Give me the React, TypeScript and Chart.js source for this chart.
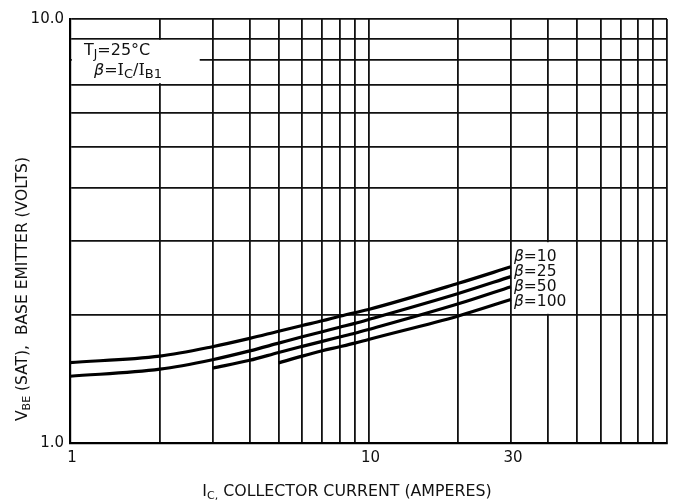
import React, { useEffect, useRef } from 'react';
import { Chart, registerables } from 'chart.js';

Chart.register(...registerables);

// ---- data ----
const currents = [1, 2, 3, 4, 5, 6, 7, 8, 9, 10, 20, 30];
const vbeBeta10 = [1.548, 1.603, 1.687, 1.765, 1.835, 1.893, 1.942, 1.99, 2.03, 2.065, 2.38, 2.603];
const vbeBeta25 = [1.437, 1.493, 1.572, 1.649, 1.72, 1.78, 1.83, 1.875, 1.915, 1.955, 2.252, 2.468];
const vbeBeta50 = [null, null, 1.501, 1.567, 1.635, 1.69, 1.737, 1.778, 1.815, 1.852, 2.13, 2.337];
const vbeBeta100 = [null, null, null, null, 1.545, 1.603, 1.65, 1.686, 1.72, 1.755, 1.994, 2.18];

const betaLabels = ['β=10', 'β=25', 'β=50', 'β=100'];

const xGridValues = [1, 2, 3, 4, 5, 6, 7, 8, 9, 10, 20, 30, 40, 50, 60, 70, 80, 90, 100];
const yGridValues = [1, 2, 3, 4, 5, 6, 7, 8, 9, 10];
const xTickValues = [1, 10, 30];
const xTickLabels = ['1', '10', '30'];
const yTickValues = [1, 10];
const yTickLabels = ['1.0', '10.0'];

const FONT = '"DejaVu Sans", "Liberation Sans", Arial, sans-serif';
const SERIF = '"DejaVu Serif", "Liberation Serif", serif';
const INK = '#111';

type Run = { t: string; size: number; dy?: number; italic?: boolean; serif?: boolean };

function drawRuns(ctx: CanvasRenderingContext2D, runs: Run[], x: number, y: number, align: 'left' | 'center') {
  const fontOf = (r: Run) => `${r.italic ? 'italic ' : ''}${r.size}px ${r.serif ? SERIF : FONT}`;
  const widths = runs.map((r) => {
    ctx.font = fontOf(r);
    return ctx.measureText(r.t).width;
  });
  const total = widths.reduce((a, b) => a + b, 0);
  let cx = align === 'center' ? x - total / 2 : x;
  ctx.textAlign = 'left';
  ctx.textBaseline = 'alphabetic';
  runs.forEach((r, i) => {
    ctx.font = fontOf(r);
    ctx.fillText(r.t, cx, y + (r.dy || 0));
    cx += widths[i];
  });
}

function toPoints(values: (number | null)[]) {
  const pts: { x: number; y: number }[] = [];
  values.forEach((v, i) => {
    if (v !== null) pts.push({ x: currents[i], y: v });
  });
  return pts;
}

const annotationPlugin = {
  id: 'annotations',
  beforeDatasetsDraw(chart: any) {
    const { ctx } = chart;
    const x = chart.scales.x;
    const y = chart.scales.y;
    ctx.save();
    ctx.fillStyle = '#fff';
    // box behind the conditions note
    const bx0 = x.getPixelForValue(1) + 2;
    const bx1 = x.getPixelForValue(2.72);
    const by0 = y.getPixelForValue(9) + 1.5;
    const by1 = y.getPixelForValue(7) - 1.5;
    ctx.fillRect(bx0, by0, bx1 - bx0, by1 - by0);
    // box behind the beta labels
    const lx0 = x.getPixelForValue(30) + 2;
    const lx1 = x.getPixelForValue(48);
    const ly0 = y.getPixelForValue(3) + 1.5;
    const ly1 = y.getPixelForValue(2) - 1.5;
    ctx.fillRect(lx0, ly0, lx1 - lx0, ly1 - ly0);
    ctx.restore();
  },
  afterDraw(chart: any) {
    const { ctx } = chart;
    const x = chart.scales.x;
    const y = chart.scales.y;
    ctx.save();
    ctx.fillStyle = INK;

    // conditions note
    const nx = x.getPixelForValue(1);
    drawRuns(ctx, [
      { t: 'T', size: 16 },
      { t: 'J', size: 12, dy: 3 },
      { t: '=25°C', size: 16 },
    ], nx + 14, 55, 'left');
    drawRuns(ctx, [
      { t: 'β', size: 16, italic: true },
      { t: '=', size: 16 },
      { t: 'I', size: 16, serif: true },
      { t: 'C', size: 13, dy: 3 },
      { t: '/', size: 16 },
      { t: 'I', size: 16, serif: true },
      { t: 'B1', size: 13, dy: 3 },
    ], nx + 24, 75, 'left');

    // beta labels
    const lx = x.getPixelForValue(30) + 3;
    const base = y.getPixelForValue(3) + 20;
    betaLabels.forEach((lab, i) => {
      drawRuns(ctx, [
        { t: 'β', size: 15.5, italic: true },
        { t: lab.slice(1), size: 15.5 },
      ], lx, base + i * 15.2, 'left');
    });

    // x axis title
    drawRuns(ctx, [
      { t: 'I', size: 15.8 },
      { t: 'C,', size: 11, dy: 3 },
      { t: ' COLLECTOR CURRENT (AMPERES)', size: 15.8 },
    ], 347, 496, 'center');

    // y axis title (rotated)
    ctx.translate(22, 289);
    ctx.rotate(-Math.PI / 2);
    drawRuns(ctx, [
      { t: 'V', size: 15.5 },
      { t: 'BE', size: 11, dy: 3 },
      { t: ' (SAT),  BASE EMITTER (VOLTS)', size: 15.5 },
    ], 0, 5, 'center');
    ctx.restore();
  },
};

export default function App() {
  const canvasRef = useRef<HTMLCanvasElement | null>(null);

  useEffect(() => {
    const canvas = canvasRef.current;
    if (!canvas) return;
    const lineStyle = {
      borderColor: '#000',
      borderWidth: 3.2,
      pointRadius: 0,
      fill: false,
      cubicInterpolationMode: 'monotone' as const,
    };
    const chart = new Chart(canvas, {
      type: 'line',
      data: {
        datasets: [
          { label: 'β=10', data: toPoints(vbeBeta10), ...lineStyle },
          { label: 'β=25', data: toPoints(vbeBeta25), ...lineStyle },
          { label: 'β=50', data: toPoints(vbeBeta50), ...lineStyle },
          { label: 'β=100', data: toPoints(vbeBeta100), ...lineStyle },
        ],
      },
      options: {
        animation: false,
        responsive: false,
        maintainAspectRatio: false,
        devicePixelRatio: 1,
        layout: { padding: { left: 0, top: 19, right: 9, bottom: 0 } },
        plugins: {
          legend: { display: false },
          tooltip: { enabled: false },
          title: { display: false },
        },
        scales: {
          x: {
            type: 'logarithmic',
            min: 1,
            max: 100,
            afterBuildTicks: (s: any) => {
              s.ticks = xGridValues.map((v) => ({ value: v }));
            },
            afterFit: (s: any) => {
              s.height = 58;
            },
            grid: { color: INK, lineWidth: 1.8, drawTicks: false },
            border: { color: '#000', width: 2.2 },
            ticks: {
              autoSkip: false,
              maxRotation: 0,
              minRotation: 0,
              padding: 6,
              labelOffset: 2,
              color: INK,
              font: { family: FONT, size: 15 },
              callback: (v: any) => {
                const i = xTickValues.indexOf(Number(v));
                return i >= 0 ? xTickLabels[i] : '';
              },
            },
          },
          y: {
            type: 'logarithmic',
            min: 1,
            max: 10,
            afterBuildTicks: (s: any) => {
              s.ticks = yGridValues.map((v) => ({ value: v }));
            },
            afterFit: (s: any) => {
              s.width = 70;
            },
            grid: { color: INK, lineWidth: 1.8, drawTicks: false },
            border: { color: '#000', width: 2.2 },
            ticks: {
              autoSkip: false,
              padding: 6,
              color: INK,
              font: { family: FONT, size: 15 },
              callback: (v: any) => {
                const i = yTickValues.indexOf(Number(v));
                return i >= 0 ? yTickLabels[i] : '';
              },
            },
          },
        },
      },
      plugins: [annotationPlugin],
    } as any);
    return () => chart.destroy();
  }, []);

  return (
    <div style={{ position: 'fixed', left: 0, top: 0, width: 676, height: 501, background: '#fff' }}>
      <canvas ref={canvasRef} width={676} height={501} style={{ display: 'block', width: 676, height: 501 }} />
    </div>
  );
}
